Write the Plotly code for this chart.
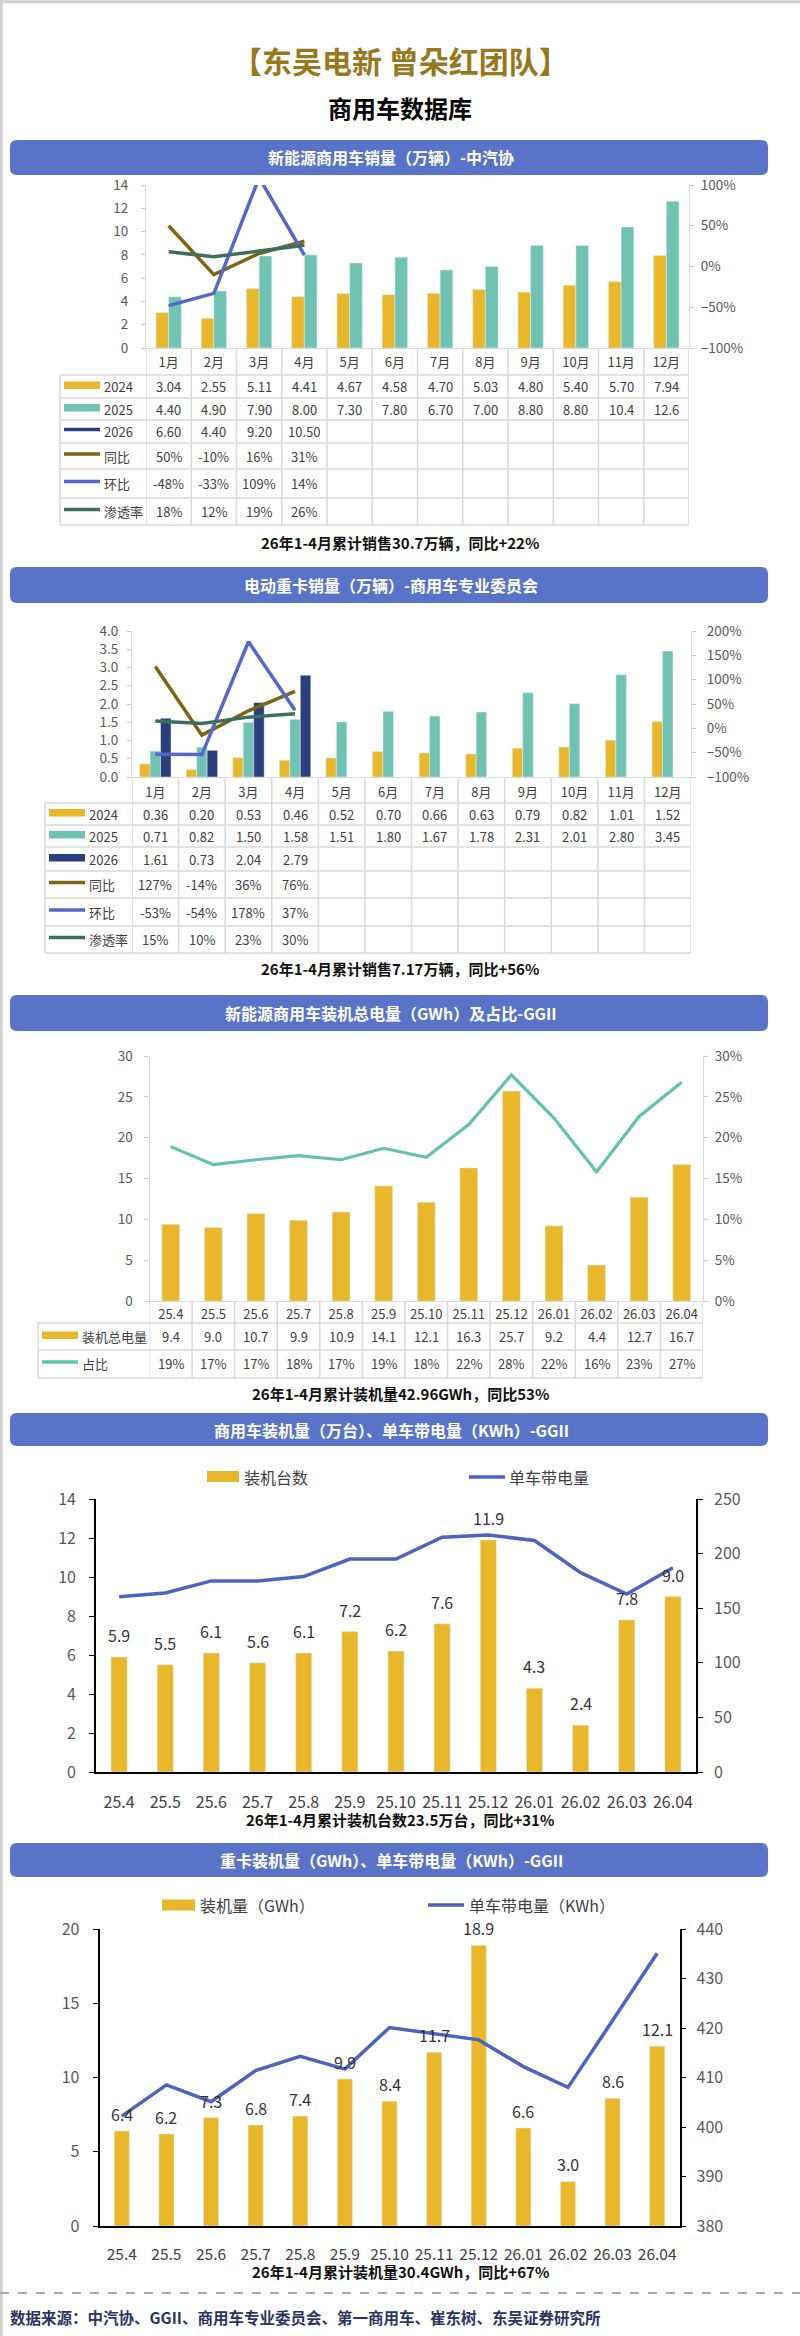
import plotly.graph_objects as go

W, H = 800, 2336
FONT = "Noto Sans CJK SC"
GOLD = "#E8B82A"
TEAL = "#70C3B3"
NAVY = "#2B3E7E"
OLIVE = "#7D6613"
BLUE = "#5468CC"
DKGREEN = "#3E6D5E"
LINE3 = "#62C2AE"
BLUE4 = "#4B64C4"
BANNER = "#5873C8"
TITLE_GOLD = "#97781C"
GRID = "#D9D9D9"
TXT = "#404040"
AX = "#595959"

# ---------------- data ----------------
months = ["1月", "2月", "3月", "4月", "5月", "6月", "7月", "8月", "9月", "10月", "11月", "12月"]
c1_2024 = [3.04, 2.55, 5.11, 4.41, 4.67, 4.58, 4.70, 5.03, 4.80, 5.40, 5.70, 7.94]
c1_2025 = [4.40, 4.90, 7.90, 8.00, 7.30, 7.80, 6.70, 7.00, 8.80, 8.80, 10.4, 12.6]
c1_2026 = [6.60, 4.40, 9.20, 10.50]
c1_yoy = [50, -10, 16, 31]
c1_mom = [-48, -33, 109, 14]
c1_pen = [18, 12, 19, 26]

c2_2024 = [0.36, 0.20, 0.53, 0.46, 0.52, 0.70, 0.66, 0.63, 0.79, 0.82, 1.01, 1.52]
c2_2025 = [0.71, 0.82, 1.50, 1.58, 1.51, 1.80, 1.67, 1.78, 2.31, 2.01, 2.80, 3.45]
c2_2026 = [1.61, 0.73, 2.04, 2.79]
c2_yoy = [127, -14, 36, 76]
c2_mom = [-53, -54, 178, 37]
c2_pen = [15, 10, 23, 30]

periods = ["25.4", "25.5", "25.6", "25.7", "25.8", "25.9", "25.10", "25.11", "25.12",
           "26.01", "26.02", "26.03", "26.04"]
c3_gwh = [9.4, 9.0, 10.7, 9.9, 10.9, 14.1, 12.1, 16.3, 25.7, 9.2, 4.4, 12.7, 16.7]
c3_share = [18.9, 16.7, 17.3, 17.8, 17.3, 18.7, 17.6, 21.6, 27.7, 22.4, 15.8, 22.6, 26.8]
c4_units = [5.9, 5.5, 6.1, 5.6, 6.1, 7.2, 6.2, 7.6, 11.9, 4.3, 2.4, 7.8, 9.0]
c4_kwh = [160.5, 164, 175, 175, 179, 195, 195, 215, 217, 212, 182.5, 163, 187]
c5_gwh = [6.4, 6.2, 7.3, 6.8, 7.4, 9.9, 8.4, 11.7, 18.9, 6.6, 3.0, 8.6, 12.1]
c5_kwh = [402.2, 408.5, 405.1, 411.4, 414.3, 411.7, 420.1, 418.8, 417.6, 412.2, 408.0, 421.5, 435.1]

# ---------------- helpers ----------------
def fx(x):
    return x / W


def fy(y):
    return 1 - y / H


fig = go.Figure()
shapes, anns = [], []
axes = {}


def refs(k):
    xr = "x" if k == 1 else f"x{k}"
    yl = "y" if k == 1 else f"y{2 * k - 1}"
    yr = f"y{2 * k}"
    return xr, yl, yr


def axname(ref):
    return ref[0] + "axis" + ref[1:]


def setup_axes(k, cats, xl, xr_, yt, yb, lrange, ldtick, lfmt, rrange, rdtick, rfmt,
               black, fsize, cat_fsize, lstand, rstand, xticklen):
    xref, ylref, yrref = refs(k)
    lc = "#000000" if black else GRID
    tc = "#000000" if black else "#C8C8C8"
    lw = 1.6 if black else 1.3
    tl = 5 if black else 4
    axes[axname(xref)] = dict(
        domain=[fx(xl), fx(xr_)], anchor=ylref, type="category",
        categoryorder="array", categoryarray=cats, range=[-0.5, len(cats) - 0.5],
        showline=True, linecolor=lc, linewidth=lw, showgrid=False, zeroline=False,
        ticks="outside", ticklen=xticklen, tickcolor="rgba(0,0,0,0)",
        tickfont=dict(family=FONT, size=cat_fsize, color=TXT),
        automargin=False, fixedrange=True)
    axes[axname(ylref)] = dict(
        domain=[fy(yb), fy(yt)], anchor=xref, range=lrange, dtick=ldtick, tick0=lrange[0],
        tickformat=lfmt, showline=True, linecolor=lc, linewidth=lw, ticks="outside",
        ticklen=tl, tickcolor=tc, showgrid=False, zeroline=False,
        tickfont=dict(family=FONT, size=fsize, color=AX), ticklabelstandoff=lstand,
        automargin=False, fixedrange=True)
    axes[axname(yrref)] = dict(
        domain=[fy(yb), fy(yt)], anchor=xref, overlaying=ylref, side="right",
        range=rrange, dtick=rdtick, tick0=rrange[0], tickformat=rfmt, showline=True,
        linecolor=lc, linewidth=lw, ticks="outside", ticklen=tl, tickcolor=tc,
        showgrid=False, zeroline=False, tickfont=dict(family=FONT, size=fsize, color=AX),
        ticklabelstandoff=rstand, automargin=False, fixedrange=True)
    return xref, ylref, yrref


def banner(y0, y1, text, x0=10, x1=768, r=7):
    X, Y = fx, fy
    p = (f"M {X(x0 + r)},{Y(y0)} L {X(x1 - r)},{Y(y0)} Q {X(x1)},{Y(y0)} {X(x1)},{Y(y0 + r)} "
         f"L {X(x1)},{Y(y1 - r)} Q {X(x1)},{Y(y1)} {X(x1 - r)},{Y(y1)} "
         f"L {X(x0 + r)},{Y(y1)} Q {X(x0)},{Y(y1)} {X(x0)},{Y(y1 - r)} "
         f"L {X(x0)},{Y(y0 + r)} Q {X(x0)},{Y(y0)} {X(x0 + r)},{Y(y0)} Z")
    shapes.append(dict(type="path", path=p, xref="paper", yref="paper",
                       fillcolor=BANNER, line=dict(width=0), layer="below"))
    anns.append(dict(x=fx((x0 + x1) / 2 + 2), y=fy((y0 + y1) / 2), xref="paper", yref="paper",
                     text=f"<b>{text}</b>", showarrow=False, xanchor="center", yanchor="middle",
                     font=dict(family=FONT, size=16, color="white")))


def note(y, text, size=15):
    anns.append(dict(x=0.5, y=fy(y), xref="paper", yref="paper", text=f"<b>{text}</b>",
                     showarrow=False, xanchor="center", yanchor="middle",
                     font=dict(family=FONT, size=size, color="#111111")))


def hline(x0, x1, y, color=GRID, width=1.5, dash=None):
    d = dict(type="line", xref="paper", yref="paper", x0=fx(x0), x1=fx(x1), y0=fy(y), y1=fy(y),
             line=dict(color=color, width=width))
    if dash:
        d["line"]["dash"] = dash
    shapes.append(d)


def table(xref, cats, left_px, right_px, axis_px, lines_px, rows, fsize=13):
    n = len(cats)
    bottom = lines_px[-1]
    for i in range(n + 1):
        shapes.append(dict(type="line", xref=xref, yref="paper", x0=i - 0.5, x1=i - 0.5,
                           y0=fy(axis_px), y1=fy(bottom), line=dict(color=GRID, width=1.5)))
    shapes.append(dict(type="line", xref="paper", yref="paper", x0=fx(left_px), x1=fx(left_px),
                       y0=fy(lines_px[0]), y1=fy(bottom), line=dict(color=GRID, width=1.5)))
    for yl in lines_px:
        hline(left_px, right_px, yl)
    for r, (label, kind, color, texts) in enumerate(rows):
        yc = (lines_px[r] + lines_px[r + 1]) / 2
        sx0, sx1 = left_px + 4, left_px + 40
        if kind == "bar":
            shapes.append(dict(type="rect", xref="paper", yref="paper", x0=fx(sx0), x1=fx(sx1),
                               y0=fy(yc + 2.5), y1=fy(yc - 5), fillcolor=color, line=dict(width=0)))
        else:
            shapes.append(dict(type="line", xref="paper", yref="paper", x0=fx(sx0), x1=fx(sx1),
                               y0=fy(yc - 2), y1=fy(yc - 2), line=dict(color=color, width=3.5)))
        anns.append(dict(x=fx(sx1 + 2), y=fy(yc), xref="paper", yref="paper", text=label,
                         showarrow=False, xanchor="left", yanchor="middle",
                         font=dict(family=FONT, size=fsize, color=TXT)))
        for j, t in enumerate(texts):
            # category axes: position by category index
            anns.append(dict(x=j, y=fy(yc), xref=xref, yref="paper", text=t,
                             showarrow=False, xanchor="center", yanchor="middle",
                             font=dict(family=FONT, size=fsize, color=TXT)))


def pct(vals):
    return [f"{v:.0f}%" for v in vals]


def bar_labels(xref, yref, vals, shift=22):
    for j, v in enumerate(vals):
        anns.append(dict(x=j, y=v, xref=xref, yref=yref, text=f"{v:.1f}", showarrow=False,
                         yanchor="middle", yshift=shift,
                         font=dict(family=FONT, size=16, color="#333333")))


# ---------------- header ----------------
shapes.append(dict(type="line", xref="paper", yref="paper", x0=0.0015, x1=0.0015, y0=0, y1=1,
                   line=dict(color="#D0D0D0", width=3)))
shapes.append(dict(type="line", xref="paper", yref="paper", x0=0, x1=1, y0=0.9993, y1=0.9993,
                   line=dict(color="#D0D0D0", width=3)))
anns.append(dict(x=0.5, y=fy(60), xref="paper", yref="paper", text="<b>【东吴电新 曾朵红团队】</b>",
                 showarrow=False, xanchor="center", yanchor="middle",
                 font=dict(family=FONT, size=30, color=TITLE_GOLD)))
anns.append(dict(x=0.5, y=fy(107), xref="paper", yref="paper", text="<b>商用车数据库</b>",
                 showarrow=False, xanchor="center", yanchor="middle",
                 font=dict(family=FONT, size=24, color="#000000")))

# ---------------- chart 1 ----------------
banner(140, 175, "新能源商用车销量（万辆）-中汽协")
x1r, y1l, y1r = setup_axes(1, months, 146, 689, 185, 348, [0, 14], 2, "d", [-1, 1], 0.5, ".0%",
                           False, 13.5, 13, 10, 4, 2)
fig.add_trace(go.Bar(x=months, y=c1_2024, width=0.28, offset=-0.28, marker_color=GOLD,
                     xaxis=x1r, yaxis=y1l))
fig.add_trace(go.Bar(x=months, y=c1_2025, width=0.28, offset=0.0, marker_color=TEAL,
                     xaxis=x1r, yaxis=y1l))
for vals, col in [(c1_yoy, OLIVE), (c1_mom, BLUE), (c1_pen, DKGREEN)]:
    fig.add_trace(go.Scatter(x=months[:len(vals)], y=[v / 100 for v in vals], mode="lines",
                             line=dict(color=col, width=3.5), xaxis=x1r, yaxis=y1r))
table(x1r, months, 60, 689, 348, [375, 398, 420, 443, 469, 498, 525], [
    ("2024", "bar", GOLD, [f"{v:.2f}" for v in c1_2024]),
    ("2025", "bar", TEAL, [f"{v:#.3g}" for v in c1_2025]),
    ("2026", "line", NAVY, [f"{v:.2f}" for v in c1_2026]),
    ("同比", "line", OLIVE, pct(c1_yoy)),
    ("环比", "line", BLUE, pct(c1_mom)),
    ("渗透率", "line", DKGREEN, pct(c1_pen)),
])
note(542, "26年1-4月累计销售30.7万辆，同比+22%")

# ---------------- chart 2 ----------------
banner(567, 603, "电动重卡销量（万辆）-商用车专业委员会")
x2r, y2l, y2r = setup_axes(2, months, 132, 691, 631, 777, [0, 4], 0.5, ".1f", [-1, 2], 0.5, ".0%",
                           False, 13.5, 13, 6, 8, 3)
bw = 0.225
fig.add_trace(go.Bar(x=months, y=c2_2024, width=bw, offset=-1.5 * bw, marker_color=GOLD,
                     xaxis=x2r, yaxis=y2l))
fig.add_trace(go.Bar(x=months, y=c2_2025, width=bw, offset=-0.5 * bw, marker_color=TEAL,
                     xaxis=x2r, yaxis=y2l))
fig.add_trace(go.Bar(x=months[:len(c2_2026)], y=c2_2026, width=bw, offset=0.5 * bw,
                     marker_color=NAVY, xaxis=x2r, yaxis=y2l))
for vals, col in [(c2_yoy, OLIVE), (c2_mom, BLUE), (c2_pen, DKGREEN)]:
    fig.add_trace(go.Scatter(x=months[:len(vals)], y=[v / 100 for v in vals], mode="lines",
                             line=dict(color=col, width=3.5), xaxis=x2r, yaxis=y2r))
table(x2r, months, 45, 691, 777, [803, 825, 847, 871, 898, 926, 953], [
    ("2024", "bar", GOLD, [f"{v:.2f}" for v in c2_2024]),
    ("2025", "bar", TEAL, [f"{v:.2f}" for v in c2_2025]),
    ("2026", "bar", NAVY, [f"{v:.2f}" for v in c2_2026]),
    ("同比", "line", OLIVE, pct(c2_yoy)),
    ("环比", "line", BLUE, pct(c2_mom)),
    ("渗透率", "line", DKGREEN, pct(c2_pen)),
])
note(968, "26年1-4月累计销售7.17万辆，同比+56%")

# ---------------- chart 3 ----------------
banner(995, 1031, "新能源商用车装机总电量（GWh）及占比-GGII")
x3r, y3l, y3r = setup_axes(3, periods, 149.5, 703, 1056, 1301, [0, 30], 5, "d", [0, 0.3], 0.05, ".0%",
                           False, 13.5, 13, 9, 4, 1)
fig.add_trace(go.Bar(x=periods, y=c3_gwh, width=0.42, offset=-0.21, marker_color=GOLD,
                     xaxis=x3r, yaxis=y3l))
fig.add_trace(go.Scatter(x=periods, y=[v / 100 for v in c3_share], mode="lines",
                         line=dict(color=LINE3, width=3.2), xaxis=x3r, yaxis=y3r))
table(x3r, periods, 38, 703, 1301, [1323, 1350, 1378], [
    ("装机总电量", "bar", GOLD, [f"{v:.1f}" for v in c3_gwh]),
    ("占比", "line", LINE3, pct(c3_share)),
])
note(1393, "26年1-4月累计装机量42.96GWh，同比53%")

# ---------------- chart 4 ----------------
banner(1413, 1446, "商用车装机量（万台）、单车带电量（KWh）-GGII")
x4r, y4l, y4r = setup_axes(4, periods, 96, 696, 1499, 1772, [0, 14], 2, "d", [0, 250], 50, "d",
                           True, 16, 16, 10, 8, 15)
fig.add_trace(go.Bar(x=periods, y=c4_units, width=0.35, offset=-0.175, marker_color=GOLD,
                     xaxis=x4r, yaxis=y4l))
fig.add_trace(go.Scatter(x=periods, y=c4_kwh, mode="lines", line=dict(color=BLUE4, width=3.5),
                         xaxis=x4r, yaxis=y4r))
bar_labels(x4r, y4l, c4_units)
# legend
shapes.append(dict(type="rect", xref="paper", yref="paper", x0=fx(207), x1=fx(239),
                   y0=fy(1482), y1=fy(1471), fillcolor=GOLD, line=dict(width=0)))
anns.append(dict(x=fx(242), y=fy(1477), xref="paper", yref="paper", text="装机台数", showarrow=False,
                 xanchor="left", yanchor="middle", font=dict(family=FONT, size=16, color=TXT)))
shapes.append(dict(type="line", xref="paper", yref="paper", x0=fx(469), x1=fx(505),
                   y0=fy(1477), y1=fy(1477), line=dict(color=BLUE4, width=3.5)))
anns.append(dict(x=fx(507), y=fy(1477), xref="paper", yref="paper", text="单车带电量", showarrow=False,
                 xanchor="left", yanchor="middle", font=dict(family=FONT, size=16, color=TXT)))
note(1819, "26年1-4月累计装机台数23.5万台，同比+31%")

# ---------------- chart 5 ----------------
banner(1843, 1877, "重卡装机量（GWh）、单车带电量（KWh）-GGII")
x5r, y5l, y5r = setup_axes(5, periods, 99.5, 679.5, 1929, 2226, [0, 20], 5, "d", [380, 440], 10, "d",
                           True, 16, 15.5, 10, 7, 14)
fig.add_trace(go.Bar(x=periods, y=c5_gwh, width=0.34, offset=-0.17, marker_color=GOLD,
                     xaxis=x5r, yaxis=y5l))
fig.add_trace(go.Scatter(x=periods, y=c5_kwh, mode="lines", line=dict(color=BLUE4, width=3.5),
                         xaxis=x5r, yaxis=y5r))
bar_labels(x5r, y5l, c5_gwh, shift=17)
LEG5 = 1905
shapes.append(dict(type="rect", xref="paper", yref="paper", x0=fx(162), x1=fx(195),
                   y0=fy(LEG5 + 5.5), y1=fy(LEG5 - 5.5), fillcolor=GOLD, line=dict(width=0)))
anns.append(dict(x=fx(198), y=fy(LEG5), xref="paper", yref="paper", text="装机量（GWh）",
                 showarrow=False, xanchor="left", yanchor="middle",
                 font=dict(family=FONT, size=16, color=TXT)))
shapes.append(dict(type="line", xref="paper", yref="paper", x0=fx(428), x1=fx(464),
                   y0=fy(LEG5), y1=fy(LEG5), line=dict(color=BLUE4, width=3.5)))
anns.append(dict(x=fx(467), y=fy(LEG5), xref="paper", yref="paper", text="单车带电量（KWh）",
                 showarrow=False, xanchor="left", yanchor="middle",
                 font=dict(family=FONT, size=16, color=TXT)))
note(2271, "26年1-4月累计装机量30.4GWh，同比+67%")

# ---------------- footer ----------------
hline(0, 800, 2293, color="#A8A8A8", width=2, dash="dash")
anns.append(dict(x=fx(8), y=fy(2317), xref="paper", yref="paper",
                 text="<b>数据来源：中汽协、GGII、商用车专业委员会、第一商用车、崔东树、东吴证券研究所</b>",
                 showarrow=False, xanchor="left", yanchor="middle",
                 font=dict(family=FONT, size=15.5, color="#2A3561")))

fig.update_layout(
    width=W, height=H, autosize=False,
    margin=dict(l=0, r=0, t=0, b=0, pad=0),
    paper_bgcolor="white", plot_bgcolor="white",
    showlegend=False, barmode="overlay",
    font=dict(family=FONT, color=TXT),
    shapes=shapes, annotations=anns,
    **axes,
)

fig.write_html("out.html")
